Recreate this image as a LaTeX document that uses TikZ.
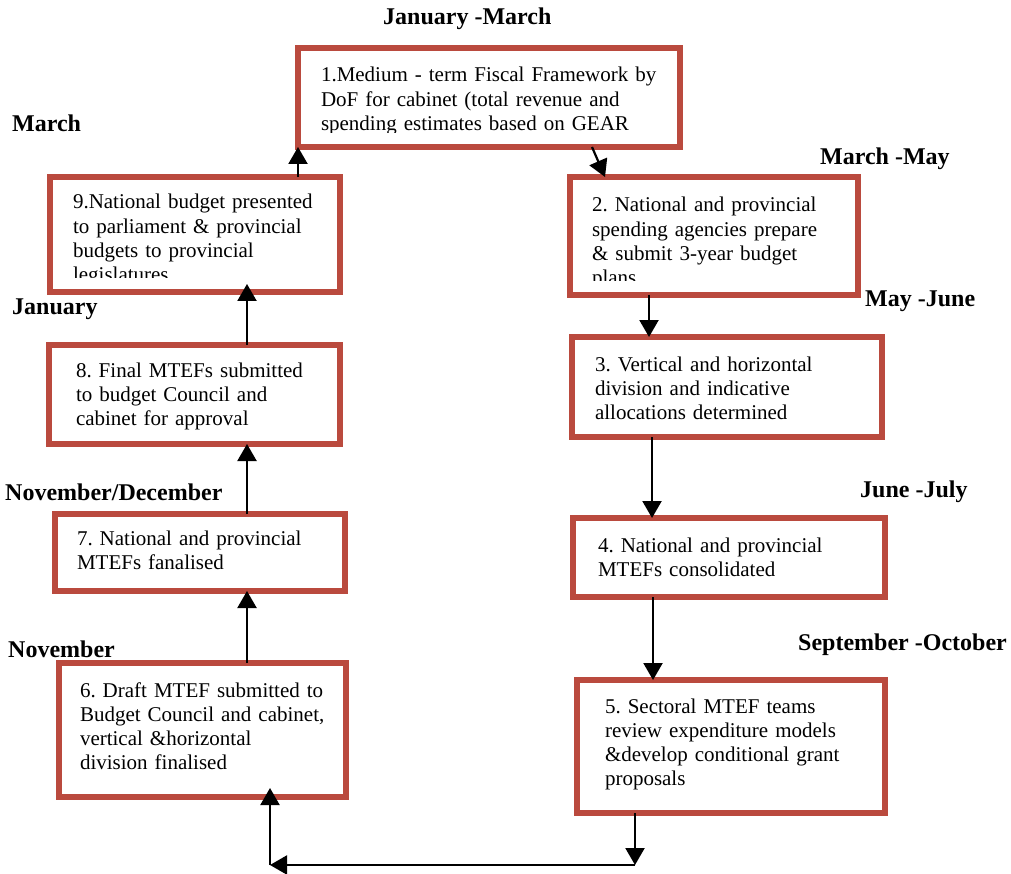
\documentclass[tikz,border=0pt]{standalone}
\usepackage{fontspec}
\setmainfont{Liberation Serif}
\usetikzlibrary{arrows.meta}
\frenchspacing

\definecolor{boxred}{RGB}{186,74,62}
\newcommand{\boxfont}{\fontsize{21}{24.3}\selectfont}
% text of a stage box, cut off just above the lower border
\newcommand{\boxtext}[3]{%
  \clip (path picture bounding box.north west) rectangle ([yshift=14pt]path picture bounding box.south east);
  \node[anchor=base west, inner sep=0pt, minimum width=0pt, minimum height=0pt, text width=360pt, align=left, font=\boxfont]
    at ([xshift=#1, yshift=-#2]path picture bounding box.north west) {#3};}

\tikzset{
  stage/.style={draw=boxred, line width=6pt, fill=white, outer sep=0pt, inner sep=0pt},
  month/.style={font=\fontsize{24}{28}\selectfont\bfseries, inner sep=0pt, anchor=base west},
  flow/.style={draw=black, line width=2.2pt, -{Triangle[width=19pt,length=17pt]}}
}

\begin{document}
\begin{tikzpicture}[x=1pt, y=-1pt]
\useasboundingbox (0,0) rectangle (1011,874);

% right column
\node[stage, minimum width=382pt, minimum height=99pt, path picture={\boxtext{23pt}{34pt}{1.Medium - term Fiscal Framework by\\DoF for cabinet (total revenue and\\spending estimates based on GEAR}}] (s1) at (489,97.5) {};
\node[stage, minimum width=288pt, minimum height=118pt, path picture={\boxtext{22pt}{35pt}{2. National and provincial\\spending agencies prepare\\\& submit 3-year budget\\plans}}] (s2) at (714,236) {};
\node[stage, minimum width=310pt, minimum height=100pt, path picture={\boxtext{23pt}{34pt}{3. Vertical and horizontal\\division and indicative\\allocations determined}}] (s3) at (727,387) {};
\node[stage, minimum width=312pt, minimum height=79pt, path picture={\boxtext{25pt}{34pt}{4. National and provincial\\MTEFs consolidated}}] (s4) at (729,557.5) {};
\node[stage, minimum width=308pt, minimum height=133pt, path picture={\boxtext{28pt}{33pt}{5. Sectoral MTEF teams\\review expenditure models\\\&develop conditional grant\\proposals}}] (s5) at (731,746.5) {};

% left column
\node[stage, minimum width=287pt, minimum height=134pt, path picture={\boxtext{21pt}{34pt}{6. Draft MTEF submitted to\\Budget Council and cabinet,\\vertical \&horizontal\\division finalised}}] (s6) at (202.5,730) {};
\node[stage, minimum width=290pt, minimum height=77pt, path picture={\boxtext{22pt}{31pt}{7. National and provincial\\MTEFs fanalised}}] (s7) at (200,552.5) {};
\node[stage, minimum width=291pt, minimum height=99pt, path picture={\boxtext{27pt}{32pt}{8. Final MTEFs submitted\\to budget Council and\\cabinet for approval}}] (s8) at (194.5,394.5) {};
\node[stage, minimum width=290pt, minimum height=115pt, path picture={\boxtext{23pt}{32pt}{9.National budget presented\\to parliament \& provincial\\budgets to provincial\\legislatures}}] (s9) at (195,234.5) {};

% months
\node[month] (m1) at (383,25) {January -March};
\node[month] (m2) at (820,165) {March -May};
\node[month] (m3) at (865,307) {May -June};
\node[month] (m4) at (860,497) {June -July};
\node[month, anchor=base east] (m5) at (1007,650) {September -October};
\node[month] (m6) at (8,657) {November};
\node[month] (m7) at (5,500) {November/December};
\node[month] (m8) at (12,315) {January};
\node[month] (m9) at (12,132) {March};

% arrows
\coordinate (a23) at (649,0);
\coordinate (a34) at (652,0);
\coordinate (a45) at (653,0);
\coordinate (al) at (247,0);
\coordinate (c1) at (270,865);
\coordinate (c2) at (635,865);

\draw[flow] ([xshift=103pt]s1.south) -- ([xshift=-109pt]s2.north);
\draw[flow] (s2.south -| a23) -- (s3.north -| a23);
\draw[flow] (s3.south -| a34) -- (s4.north -| a34);
\draw[flow] (s4.south -| a45) -- (s5.north -| a45);
\draw[flow] (s5.south -| c2) -- (c2);
\draw[flow] (c2) -- (c1);
\draw[flow, shorten >=-9pt] (c1) -- (s6.south -| c1);
\draw[flow] (s6.north -| al) -- (s7.south -| al);
\draw[flow] (s7.north -| al) -- (s8.south -| al);
\draw[flow, shorten >=-8pt] (s8.north -| al) -- (s9.south -| al);
\draw[flow] (s9.north -| s1.south west) -- (s1.south west);
\end{tikzpicture}
\end{document}
